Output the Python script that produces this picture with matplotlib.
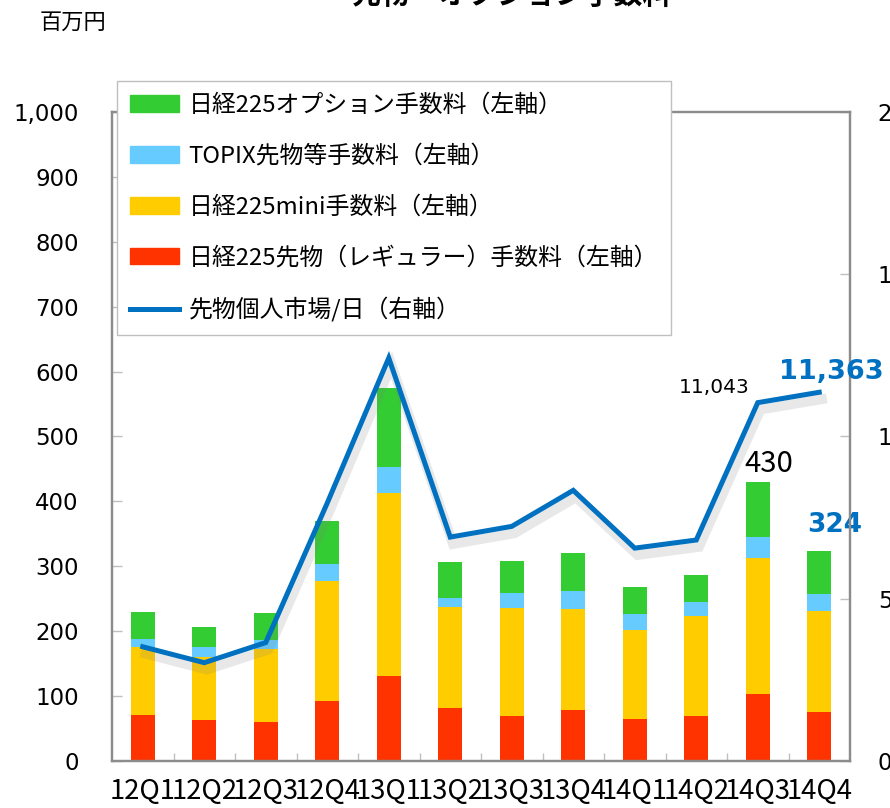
import numpy as np
import matplotlib.pyplot as plt
import matplotlib.patheffects as pe
from matplotlib.patches import Patch
from matplotlib.lines import Line2D
from matplotlib.ticker import MultipleLocator, FuncFormatter

plt.rcParams['font.family'] = ['DejaVu Sans', 'Noto Sans CJK JP']
JP = ['Noto Sans CJK JP', 'DejaVu Sans']

quarters = ['12Q1', '12Q2', '12Q3', '12Q4', '13Q1', '13Q2',
            '13Q3', '13Q4', '14Q1', '14Q2', '14Q3', '14Q4']
# 百万円 (左軸)
regular = [71, 63, 60, 92, 131, 82, 70, 79, 64, 70, 104, 75]
mini = [104, 98, 112, 185, 282, 156, 165, 155, 138, 153, 209, 156]
topix = [13, 14, 14, 26, 40, 13, 24, 28, 25, 22, 32, 27]
option = [41, 32, 42, 67, 122, 55, 49, 59, 41, 42, 85, 66]
# 先物個人市場/日 (右軸)
retail = [3520, 3030, 3650, 7950, 12420, 6900, 7230, 8340, 6560, 6810, 11043, 11363]

labels = ['日経225オプション手数料（左軸）', 'TOPIX先物等手数料（左軸）',
          '日経225mini手数料（左軸）', '日経225先物（レギュラー）手数料（左軸）',
          '先物個人市場/日（右軸）']

c_red = '#FF3300'
c_yel = '#FFCC00'
c_blu = '#66CCFF'
c_grn = '#33CC33'
c_line = '#0070C0'
c_axis = '#8C8C8C'

fig = plt.figure(figsize=(8.9, 8.08), dpi=100)
W, H = 890, 808
ax = fig.add_axes([112 / W, 47 / H, 738 / W, 649 / H])

x = np.arange(len(quarters))
w = 0.39
b1 = np.array(regular)
b2 = b1 + np.array(mini)
b3 = b2 + np.array(topix)
ax.bar(x, regular, w, color=c_red, linewidth=0)
ax.bar(x, mini, w, bottom=b1, color=c_yel, linewidth=0)
ax.bar(x, topix, w, bottom=b2, color=c_blu, linewidth=0)
ax.bar(x, option, w, bottom=b3, color=c_grn, linewidth=0)
totals = b3 + np.array(option)

ax.set_xlim(-0.5, len(quarters) - 0.5)
ax.set_ylim(0, 1000)
ax.yaxis.set_major_locator(MultipleLocator(100))
ax.yaxis.set_major_formatter(FuncFormatter(lambda v, p: f'{int(v):,}'))
ax.tick_params(axis='y', direction='in', length=7, width=1, color='#BFBFBF',
               labelsize=16.5, pad=24)
ax.set_xticks(x)
ax.set_xticklabels(quarters, family=JP, fontsize=19.8)
ax.set_xticks(x[:-1] + 0.5, minor=True)
ax.tick_params(axis='x', which='major', length=0, pad=12)
ax.tick_params(axis='x', which='minor', direction='in', length=6, width=1,
               color='#BFBFBF')
for s in ax.spines.values():
    s.set_color(c_axis)
    s.set_linewidth(1.6)

ax2 = ax.twinx()
ax2.set_ylim(0, 20000)
ax2.yaxis.set_major_locator(MultipleLocator(5000))
ax2.yaxis.set_major_formatter(FuncFormatter(lambda v, p: f'{int(v):,}'))
ax2.tick_params(axis='y', direction='in', length=7, width=1, color='#BFBFBF',
                labelsize=16.5, pad=20)
for s in ax2.spines.values():
    s.set_color(c_axis)
    s.set_linewidth(1.6)
ax2.plot(x, retail, color=c_line, linewidth=3.6, solid_joinstyle='miter',
         path_effects=[pe.SimpleLineShadow(offset=(2, -5), shadow_color='#808080',
                                           alpha=0.18, linewidth=7),
                       pe.Normal()])

ax2.annotate(f'{retail[10]:,}', (x[10], retail[10]), xytext=(-8, 15),
             textcoords='offset pixels', ha='right', va='center', fontsize=14.5)
ax2.annotate(f'{retail[11]:,}', (x[11], retail[11]), xytext=(12, 20),
             textcoords='offset pixels', ha='center', va='center', fontsize=19.5,
             fontweight='bold', color=c_line)
ax.annotate(f'{totals[10]}', (x[10], totals[10]), xytext=(11, 18),
            textcoords='offset pixels', ha='center', va='center', fontsize=21,
            family=JP)
ax.annotate(f'{totals[11]}', (x[11], totals[11]), xytext=(15, 26),
            textcoords='offset pixels', ha='center', va='center', fontsize=19,
            fontweight='bold', color=c_line)

handles = [Patch(color=c_grn), Patch(color=c_blu), Patch(color=c_yel),
           Patch(color=c_red), Line2D([], [], color=c_line, linewidth=3.6)]
leg = fig.legend(handles, labels, loc='upper left',
                 bbox_to_anchor=(117 / W, 1 - 81 / H), borderaxespad=0,
                 prop={'family': JP, 'size': 17.2}, frameon=True, fancybox=False,
                 framealpha=1, edgecolor='#BFBFBF', handlelength=2.05,
                 handleheight=0.7, handletextpad=0.4, labelspacing=1.16,
                 borderpad=0.55)
leg.get_frame().set_linewidth(1)

fig.text(512 / W, 1 - 4 / H, '先物・オプション手数料', ha='center', va='baseline',
         fontsize=21, fontweight='bold', family=JP)
fig.text(40 / W, 1 - 22 / H, '百万円', ha='left', va='center', fontsize=16,
         family=JP)

fig.savefig('out.png', dpi=100)
